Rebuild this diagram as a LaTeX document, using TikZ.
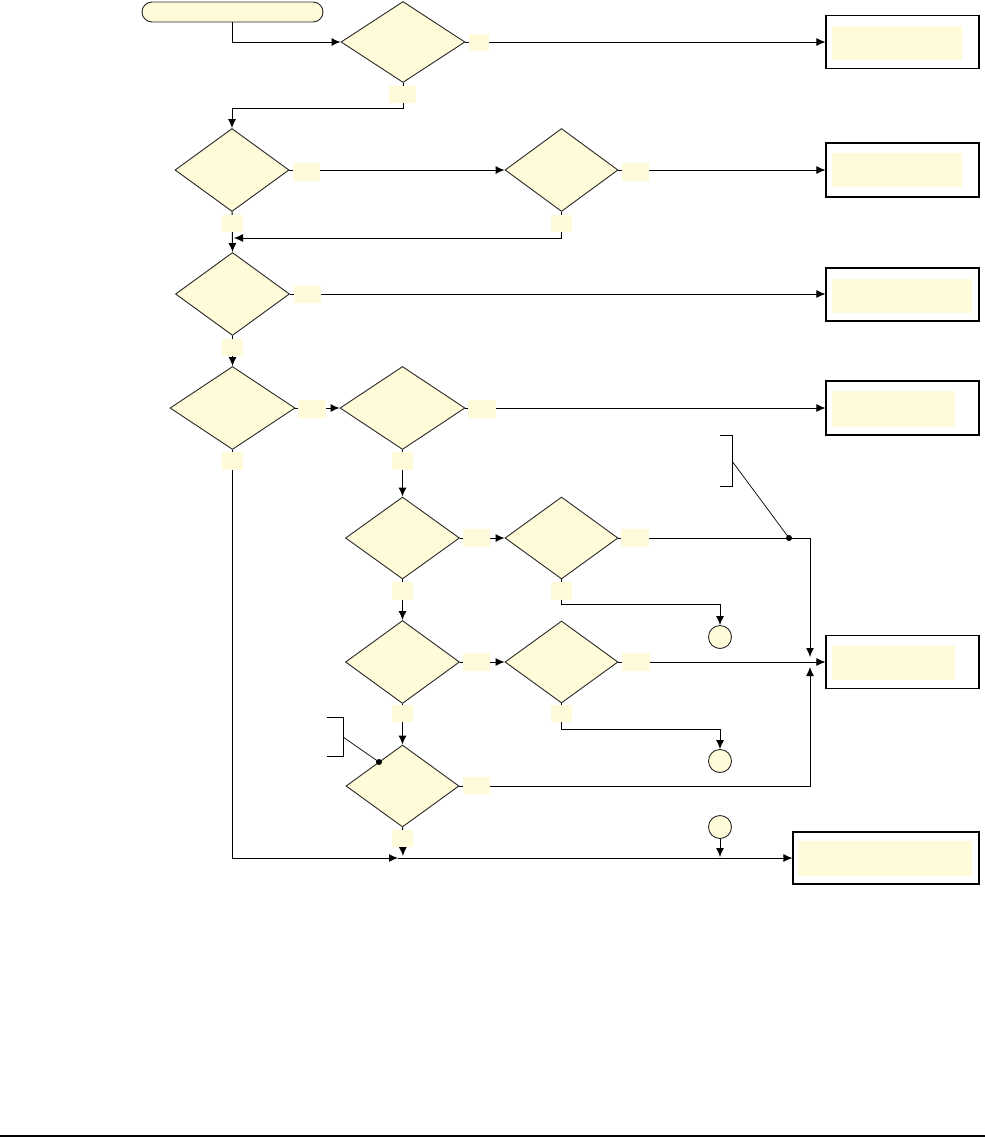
\documentclass[tikz,border=0pt]{standalone}
\usetikzlibrary{shapes.geometric,arrows.meta}
\definecolor{notecream}{RGB}{255,251,217}
\definecolor{edgegray}{RGB}{40,40,40}

\begin{document}
\begin{tikzpicture}[x=1pt,y=-1pt,
    decision/.style={diamond,draw=edgegray,line width=0.9pt,fill=notecream,
                     inner sep=0pt,minimum width=114,minimum height=83},
    endbox/.style={draw=black,line width=1.1pt,inner sep=0pt,
                   minimum width=153,minimum height=53},
    endfill/.style={fill=notecream,inner sep=0pt,minimum height=34},
    yeslabel/.style={fill=notecream,inner sep=0pt,minimum width=27,minimum height=18},
    nolabel/.style={fill=notecream,inner sep=0pt,minimum width=21,minimum height=17},
    connector/.style={draw=edgegray,line width=0.9pt,fill=notecream,
                      circle,inner sep=0pt,minimum size=23},
    flow/.style={line width=1pt,-{Latex[length=9pt,width=8pt]}}]
  \useasboundingbox (0,0) rectangle (985,1138);

  % start and decisions
  \node[draw=edgegray,line width=0.9pt,fill=notecream,rounded corners=10,
        inner sep=0pt,minimum width=181,minimum height=20] (start) at (232.5,12) {};
  \node[decision,minimum width=124,minimum height=81] (d1) at (403,42) {};
  \node[decision] (d2) at (232,170) {};
  \node[decision,minimum width=113] (d3) at (561.5,170) {};
  \node[decision] (d4) at (232.5,294) {};
  \node[decision,minimum width=125] (d5) at (232.5,408) {};
  \node[decision,minimum width=125] (d6) at (402.5,408) {};
  \node[decision,minimum height=82] (d7) at (402.5,538) {};
  \node[decision,minimum width=113,minimum height=82] (d8) at (561.5,538) {};
  \node[decision] (d9) at (402.5,662) {};
  \node[decision,minimum width=113,minimum height=82] (d10) at (561.5,662) {};
  \node[decision,minimum width=113,minimum height=82] (d11) at (402.5,786) {};

  % end boxes
  \node[endbox] (e1) at (902.5,42) {};
  \node[endfill,minimum width=130] at (897,43) {};
  \node[endbox,minimum height=54] (e2) at (902.5,170) {};
  \node[endfill,minimum width=130] at (897,170) {};
  \node[endbox] (e3) at (902.5,294.5) {};
  \node[endfill,minimum width=140] at (902,296) {};
  \node[endbox,minimum height=54] (e4) at (902.5,408) {};
  \node[endfill,minimum width=123,minimum height=36] at (893.5,409) {};
  \node[endbox] (e5) at (902.5,662) {};
  \node[endfill,minimum width=123] at (893.5,663) {};
  \node[endbox,minimum width=186,minimum height=52] (e6) at (886,858) {};
  \node[endfill,minimum width=174,minimum height=35] at (885,858.5) {};

  % off-page connectors
  \node[connector] (c1) at (720,637) {};
  \node[connector] (c2) at (720,761) {};
  \node[connector] (c3) at (720,827) {};

  % junction points
  \coordinate (j1) at (403,108);
  \coordinate (j2) at (234,238);
  \coordinate (j3) at (398,858);
  \coordinate (j4) at (403,856);
  \coordinate (j5) at (810,657);
  \coordinate (j6) at (810,667);
  \coordinate (j7) at (720,857);

  % flow lines
  \draw[flow] (start.south) |- (d1.west);
  \draw[flow] (d1.east) -- (d1.east -| e1.west);
  \draw[flow] (d1.south) -- (j1) -| (d2.north);
  \draw[flow] (d2.east) -- (d3.west);
  \draw[flow] (d3.east) -- (d3.east -| e2.west);
  \draw[flow] (d3.south) |- (j2);
  \draw[flow] (d2.south) -- (d4.north);
  \draw[flow] (d4.east) -- (d4.east -| e3.west);
  \draw[flow] (d4.south) -- (d5.north);
  \draw[flow] (d5.east) -- (d6.west);
  \draw[flow] (d6.east) -- (d6.east -| e4.west);
  \draw[flow] (d5.south) |- (j3);
  \draw[flow] (d6.south) -- (d7.north);
  \draw[flow] (d7.east) -- (d8.west);
  \draw[flow] (d8.east) -| (j5);
  \draw[flow] (d8.south) -- ++(0,25) -| (c1.north);
  \draw[flow] (d7.south) -- (d9.north);
  \draw[flow] (d9.east) -- (d10.west);
  \draw[flow] (d10.east) -- (d10.east -| e5.west);
  \draw[flow] (d10.south) -- ++(0,26) -| (c2.north);
  \draw[flow] (d9.south) -- (d11.north);
  \draw[flow] (d11.east) -| (j6);
  \draw[flow] (d11.south) -- (j4);
  \draw[flow] (j3) -- (e6.west);
  \draw[flow] (c3.south) -- (j7);

  % annotations
  \coordinate (dot1) at (789,538);
  \coordinate (dot2) at (379,762);
  \fill (dot1) circle (3);
  \fill (dot2) circle (3);
  \draw[line width=0.9pt] (720,435) -- (732,435) -- (732,486) -- (720,486);
  \draw[line width=0.7pt] (732,461) -- (dot1);
  \draw[line width=0.9pt] (327,717) -- (343,717) -- (343,756) -- (327,756);
  \draw[line width=0.7pt] (343,737) -- (dot2);

  % branch labels
  \node[yeslabel,minimum width=20,minimum height=17] at (479,42.5) {};
  \node[nolabel,minimum width=27] at (402.5,94.5) {};
  \node[yeslabel] at (306.5,172) {};
  \node[nolabel] at (232.5,223.5) {};
  \node[yeslabel] at (635,172) {};
  \node[nolabel] at (561.5,223.5) {};
  \node[yeslabel,minimum height=17] at (307.5,294.5) {};
  \node[nolabel] at (232.5,347.5) {};
  \node[yeslabel,minimum width=28] at (312,409) {};
  \node[nolabel,minimum height=18] at (232.5,461) {};
  \node[yeslabel,minimum width=28] at (482,409) {};
  \node[nolabel,minimum height=18] at (402.5,461) {};
  \node[yeslabel] at (476.5,538) {};
  \node[nolabel,minimum height=18] at (402.5,591) {};
  \node[yeslabel,minimum width=28] at (635,538) {};
  \node[nolabel,minimum height=18] at (561.5,591) {};
  \node[yeslabel] at (476.5,662) {};
  \node[nolabel] at (402.5,713.5) {};
  \node[yeslabel,minimum width=28] at (636,662) {};
  \node[nolabel] at (561.5,713.5) {};
  \node[yeslabel,minimum height=17] at (476.5,785.5) {};
  \node[nolabel] at (402.5,838) {};

  \draw[line width=1.5pt] (0,1136) -- (985,1136);
\end{tikzpicture}
\end{document}
